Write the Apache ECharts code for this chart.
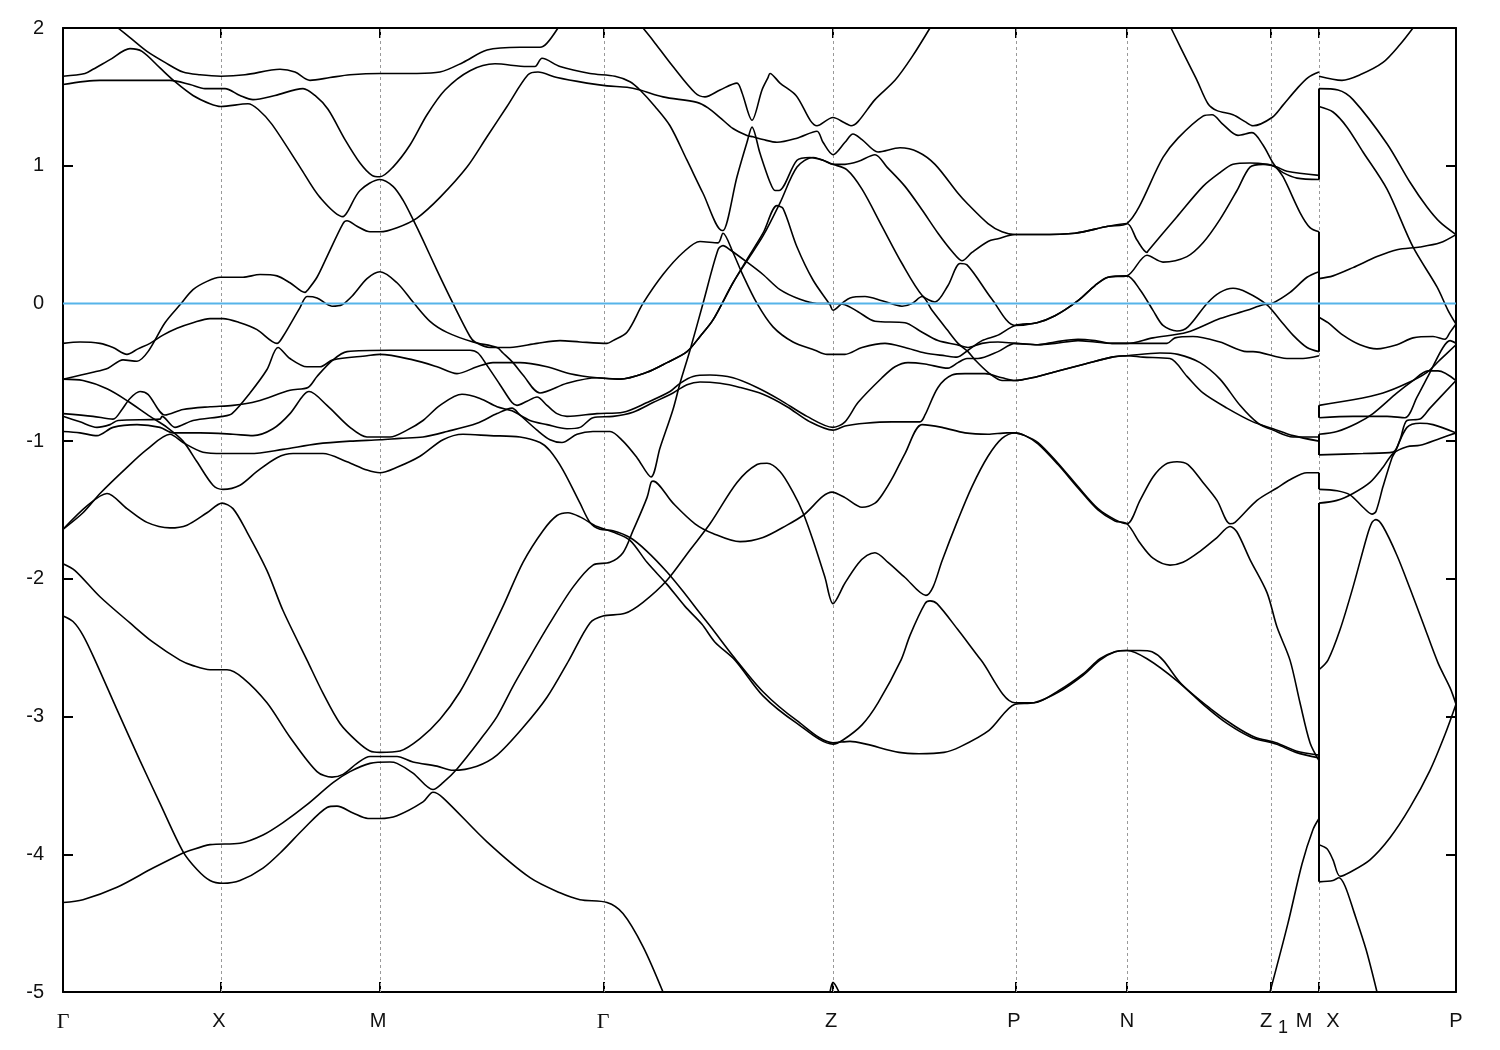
<!DOCTYPE html>
<html><head><meta charset="utf-8"><title>Band structure</title>
<style>html,body{margin:0;padding:0;background:#fff}#c{width:1500px;height:1050px}</style>
<script src="https://cdn.jsdelivr.net/npm/echarts@6/dist/echarts.min.js"></script>
</head><body><div id="c"></div>
<script>
// k = distance along the path, E = energy (eV)
const tickK=[158,317,541,770,953,1064,1208,1256];
const labelK=[0,156,315,540,768,951,1064,1211,1241,1270,1393];
const labelText=['Γ','X','M','Γ','Z','P','N','Z1','M','X','P'];
const energyTicks=[-5,-4,-3,-2,-1,1,2];
const fermi=[[0,0],[1393,0]];
const band01=[[55,2],[67,1.93],[84,1.83],[102,1.75],[120,1.68],[137,1.66],[158,1.65],[182,1.66],[217,1.70],[232,1.68],[247,1.62],[267,1.64],[287,1.66],[317,1.67],[354,1.67],[377,1.68],[400,1.75],[424,1.84],[457,1.86],[477,1.86],[484,1.89],[495,2]];
const band02=[[0,1.65],[22,1.67],[30,1.70],[47,1.77],[67,1.85],[79,1.83],[97,1.71],[112,1.61],[130,1.51],[147,1.45],[158,1.43],[185,1.45],[195,1.41],[209,1.30],[237,.99],[257,.77],[280,.63],[284,.66],[297,.82],[317,.90],[330,.85],[340,.75],[350,.61],[360,.46],[374,.24],[390,0],[407,-.24],[412,-.28],[427,-.32],[447,-.32],[474,-.29],[497,-.27],[517,-.28],[544,-.29],[550,-.27],[564,-.21],[580,0],[600,.21],[620,.37],[637,.45],[655,.44],[660,.51],[670,.37],[679,.22],[694,0],[710,-.17],[730,-.28],[752,-.34],[764,-.37],[770,-.37],[782,-.37],[799,-.32],[822,-.29],[842,-.32],[862,-.36],[882,-.38],[894,-.39],[905,-.34],[919,-.27],[935,-.23],[952,-.16],[974,-.14],[992,-.09],[1015,.02],[1032,.13],[1045,.19],[1064,.20],[1077,.10],[1090,-.05],[1100,-.16],[1114,-.20],[1125,-.17],[1144,0],[1157,.08],[1170,.11],[1184,.08],[1204,-.01],[1217,-.12],[1230,-.23],[1244,-.32],[1256,-.35]];
const band03=[[0,1.59],[37,1.62],[67,1.62],[107,1.62],[127,1.59],[142,1.56],[162,1.56],[177,1.51],[190,1.48],[212,1.51],[240,1.56],[252,1.51],[265,1.41],[282,1.19],[297,1.02],[309,.93],[317,.92],[330,.99],[347,1.15],[364,1.37],[382,1.55],[407,1.69],[432,1.74],[464,1.72],[472,1.72],[479,1.78],[497,1.72],[527,1.67],[552,1.65],[567,1.61],[577,1.55],[592,1.43],[607,1.29],[624,1.04],[640,.80],[659,.53],[660,.53],[674,.92],[684,1.17],[689,1.28],[697,1.09],[707,.88],[712,.82],[716,.82],[734,1.04],[747,1.06],[760,1.04],[770,1.01],[782,1.01],[795,1.03],[812,1.08],[824,.99],[842,.85],[859,.68],[875,.51],[890,.37],[899,.31],[909,.37],[925,.45],[935,.47],[952,.50],[975,.50],[1012,.51],[1045,.56],[1064,.58],[1100,1.06],[1115,1.20],[1140,1.36],[1149,1.37],[1160,1.30],[1175,1.22],[1189,1.24],[1200,1.15],[1210,1.02],[1220,.92],[1237,.66],[1247,.55],[1256,.52]];
const band04=[[0,-.55],[30,-.50],[45,-.47],[60,-.41],[74,-.42],[85,-.35],[102,-.14],[117,-.01],[130,.10],[144,.16],[157,.19],[180,.19],[197,.21],[214,.20],[227,.15],[242,.08],[245,.10],[254,.19],[264,.34],[280,.58],[284,.60],[294,.56],[307,.52],[317,.52],[334,.55],[354,.62],[377,.77],[404,.99],[424,1.21],[444,1.43],[465,1.66],[475,1.68],[494,1.64],[524,1.60],[544,1.58],[564,1.57],[577,1.55],[600,1.50],[634,1.46],[645,1.42],[657,1.35],[670,1.27],[684,1.22],[690,1.21],[700,1.19],[714,1.17],[734,1.20],[754,1.25],[760,1.17],[770,1.08],[782,1.17],[790,1.23],[799,1.19],[815,1.10],[837,1.13],[855,1.10],[872,1.01],[895,.80],[905,.72],[925,.58],[939,.52],[952,.50],[975,.50],[1012,.51],[1045,.56],[1064,.58],[1074,.46],[1084,.37],[1085,.38],[1114,.63],[1140,.85],[1157,.95],[1170,1.01],[1187,1.02],[1204,1.01],[1214,.99],[1224,.96],[1256,.93]];
const band05=[[0,-.29],[17,-.28],[37,-.29],[50,-.32],[64,-.37],[75,-.33],[87,-.29],[100,-.23],[114,-.18],[130,-.14],[147,-.11],[160,-.11],[177,-.14],[194,-.19],[214,-.29],[220,-.24],[237,-.03],[244,.05],[254,.04],[269,-.02],[279,-.01],[290,.06],[304,.18],[317,.23],[334,.15],[350,.01],[367,-.13],[384,-.21],[410,-.28],[434,-.32],[440,-.36],[450,-.43],[460,-.52],[477,-.65],[504,-.58],[534,-.54],[557,-.55],[584,-.50],[604,-.43],[624,-.35],[637,-.24],[650,-.12],[670,.15],[684,.32],[700,.51],[714,.71],[720,.69],[734,.41],[750,.17],[767,-.01],[770,-.05],[779,0],[787,.04],[802,.05],[819,.02],[839,-.02],[849,0],[859,.05],[869,-.05],[884,-.19],[895,-.29],[905,-.35],[912,-.41],[925,-.50],[939,-.56],[952,-.56],[969,-.54],[995,-.49],[1022,-.44],[1049,-.39],[1064,-.38],[1097,-.36],[1115,-.37],[1137,-.43],[1157,-.55],[1177,-.74],[1195,-.87],[1210,-.92],[1230,-.97],[1256,-.97]];
const band06=[[0,-.80],[30,-.82],[50,-.84],[59,-.77],[67,-.69],[77,-.64],[85,-.66],[102,-.81],[120,-.77],[147,-.75],[170,-.74],[194,-.71],[227,-.63],[245,-.61],[254,-.53],[270,-.41],[284,-.35],[327,-.34],[360,-.34],[407,-.34],[415,-.36],[424,-.45],[437,-.59],[449,-.72],[454,-.74],[464,-.71],[474,-.68],[484,-.74],[494,-.80],[504,-.82],[534,-.80],[560,-.79],[584,-.72],[607,-.64],[617,-.58],[630,-.53],[647,-.52],[670,-.54],[694,-.61],[717,-.70],[744,-.82],[770,-.90],[782,-.86],[795,-.72],[819,-.54],[832,-.46],[845,-.43],[862,-.44],[885,-.47],[895,-.43],[904,-.40],[915,-.40],[935,-.35],[952,-.29],[975,-.30],[992,-.28],[1015,-.26],[1032,-.27],[1049,-.29],[1064,-.29],[1104,-.29],[1112,-.25],[1130,-.24],[1157,-.28],[1184,-.35],[1190,-.35],[1224,-.40],[1240,-.40],[1256,-.38]];
const band07=[[0,-.82],[17,-.86],[34,-.90],[47,-.88],[55,-.85],[97,-.84],[99,-.82],[112,-.90],[130,-.85],[160,-.82],[169,-.80],[187,-.65],[204,-.48],[215,-.32],[227,-.40],[244,-.46],[257,-.46],[270,-.41],[304,-.38],[317,-.37],[350,-.41],[374,-.46],[394,-.51],[414,-.46],[430,-.43],[457,-.43],[484,-.46],[507,-.51],[534,-.54],[557,-.55],[584,-.50],[604,-.43],[624,-.35],[637,-.24],[650,-.12],[670,.15],[684,.31],[700,.49],[717,.73],[734,.99],[750,1.06],[770,1.01],[784,.97],[799,.83],[819,.56],[839,.29],[859,.06],[872,.01],[885,.13],[897,.29],[904,.28],[929,.03],[952,-.16],[974,-.14],[992,-.09],[1015,.02],[1032,.13],[1045,.19],[1064,.20],[1084,.35],[1100,.30],[1124,.34],[1140,.44],[1157,.61],[1174,.82],[1187,.99],[1200,1.01],[1210,1.00],[1220,.95],[1234,.91],[1256,.90]];
const band08=[[0,-.93],[17,-.94],[34,-.96],[50,-.90],[74,-.88],[97,-.90],[110,-.94],[137,-.94],[170,-.95],[190,-.96],[210,-.91],[227,-.80],[240,-.67],[246,-.64],[264,-.74],[287,-.90],[304,-.97],[327,-.97],[344,-.92],[360,-.85],[377,-.74],[399,-.66],[417,-.69],[434,-.75],[449,-.78],[467,-.85],[484,-.88],[504,-.91],[517,-.90],[530,-.83],[550,-.82],[570,-.79],[590,-.72],[610,-.65],[624,-.59],[637,-.57],[657,-.58],[677,-.61],[700,-.66],[724,-.75],[747,-.86],[770,-.92],[782,-.89],[802,-.87],[829,-.86],[857,-.86],[862,-.81],[875,-.61],[889,-.52],[902,-.51],[922,-.51],[939,-.54],[952,-.56],[969,-.54],[995,-.49],[1022,-.44],[1049,-.39],[1064,-.38],[1080,-.39],[1107,-.40],[1124,-.53],[1140,-.65],[1164,-.76],[1190,-.86],[1210,-.91],[1230,-.96],[1256,-1.0]];
const band09=[[0,-.55],[20,-.56],[44,-.62],[65,-.71],[87,-.82],[104,-.90],[120,-1.0],[134,-1.15],[150,-1.32],[160,-1.35],[177,-1.32],[194,-1.22],[214,-1.12],[230,-1.09],[260,-1.09],[284,-1.15],[304,-1.21],[317,-1.23],[334,-1.19],[357,-1.11],[380,-.99],[400,-.95],[427,-.96],[457,-.97],[477,-1.01],[487,-1.07],[500,-1.21],[517,-1.45],[527,-1.59],[537,-1.64],[550,-1.65],[567,-1.70],[584,-1.80],[604,-1.95],[620,-2.09],[637,-2.25],[650,-2.37],[670,-2.56],[700,-2.82],[734,-3.03],[770,-3.19],[787,-3.18],[803,-3.20],[836,-3.26],[856,-3.27],[881,-3.26],[897,-3.22],[926,-3.10],[952,-2.91],[971,-2.90],[996,-2.82],[1020,-2.70],[1037,-2.59],[1052,-2.53],[1064,-2.52],[1077,-2.52],[1089,-2.53],[1100,-2.59],[1118,-2.76],[1147,-2.94],[1172,-3.07],[1192,-3.15],[1213,-3.19],[1233,-3.25],[1256,-3.28]];
const band10=[[0,-1.64],[20,-1.52],[37,-1.38],[64,-1.19],[84,-1.06],[107,-.95],[120,-1.01],[140,-1.08],[160,-1.09],[187,-1.09],[220,-1.06],[254,-1.02],[287,-1.0],[317,-.99],[337,-.98],[360,-.97],[384,-.93],[414,-.87],[434,-.80],[449,-.76],[457,-.81],[474,-.92],[487,-.99],[499,-1.01],[514,-.95],[530,-.93],[547,-.93],[560,-1.0],[574,-1.12],[588,-1.26],[597,-1.05],[610,-.77],[617,-.58],[627,-.34],[640,0],[655,.39],[660,.42],[667,.39],[684,.30],[700,.21],[717,.10],[737,.03],[754,0],[770,0],[782,-.01],[795,-.06],[812,-.13],[842,-.14],[857,-.20],[875,-.27],[894,-.30],[905,-.32],[919,-.29],[935,-.28],[952,-.29],[975,-.30],[992,-.29],[1015,-.27],[1032,-.28],[1049,-.29],[1064,-.29],[1090,-.25],[1124,-.21],[1157,-.11],[1184,-.05],[1200,-.01],[1209,0],[1227,.08],[1244,.19],[1256,.23]];
const band11=[[0,-1.64],[24,-1.47],[44,-1.38],[64,-1.49],[84,-1.59],[107,-1.63],[124,-1.61],[144,-1.52],[159,-1.45],[170,-1.49],[184,-1.66],[204,-1.94],[220,-2.23],[244,-2.59],[260,-2.83],[277,-3.05],[294,-3.18],[307,-3.25],[317,-3.26],[337,-3.25],[357,-3.16],[377,-3.02],[397,-2.82],[414,-2.59],[440,-2.20],[460,-1.88],[480,-1.65],[494,-1.54],[505,-1.52],[517,-1.55],[534,-1.62],[550,-1.66],[567,-1.72],[584,-1.88],[604,-2.04],[622,-2.20],[639,-2.33],[652,-2.46],[672,-2.59],[700,-2.85],[734,-3.05],[770,-3.20],[780,-3.17],[799,-3.06],[815,-2.90],[838,-2.59],[847,-2.41],[862,-2.18],[867,-2.16],[874,-2.18],[895,-2.37],[918,-2.59],[952,-2.90],[971,-2.90],[996,-2.81],[1020,-2.69],[1037,-2.58],[1052,-2.53],[1064,-2.52],[1084,-2.58],[1114,-2.74],[1143,-2.93],[1164,-3.05],[1188,-3.15],[1213,-3.20],[1233,-3.26],[1256,-3.30]];
const band12=[[0,-1.89],[12,-1.94],[37,-2.13],[67,-2.32],[90,-2.46],[117,-2.59],[130,-2.63],[147,-2.66],[164,-2.66],[180,-2.72],[204,-2.90],[227,-3.15],[254,-3.40],[269,-3.44],[280,-3.42],[294,-3.34],[307,-3.29],[334,-3.29],[350,-3.33],[374,-3.36],[390,-3.39],[414,-3.36],[434,-3.28],[460,-3.08],[484,-2.86],[506,-2.59],[527,-2.32],[540,-2.27],[562,-2.25],[580,-2.17],[604,-2.01],[627,-1.79],[647,-1.60],[674,-1.30],[694,-1.17],[704,-1.16],[717,-1.22],[730,-1.37],[740,-1.52],[750,-1.72],[762,-1.99],[770,-2.18],[782,-2.03],[795,-1.89],[804,-1.83],[812,-1.81],[825,-1.88],[842,-1.99],[863,-2.12],[870,-2.06],[879,-1.87],[895,-1.57],[909,-1.33],[925,-1.11],[939,-.98],[952,-.94],[962,-.96],[975,-1.01],[995,-1.16],[1015,-1.33],[1035,-1.49],[1052,-1.57],[1064,-1.60],[1077,-1.43],[1090,-1.26],[1102,-1.17],[1114,-1.15],[1125,-1.17],[1140,-1.30],[1154,-1.43],[1167,-1.60],[1172,-1.59],[1194,-1.43],[1214,-1.34],[1227,-1.28],[1244,-1.23],[1256,-1.23]];
const band13=[[0,-2.27],[10,-2.31],[20,-2.41],[32,-2.59],[54,-2.95],[77,-3.32],[97,-3.63],[120,-3.98],[134,-4.11],[147,-4.19],[160,-4.21],[177,-4.19],[200,-4.10],[220,-3.97],[240,-3.82],[264,-3.66],[274,-3.65],[290,-3.70],[305,-3.74],[317,-3.74],[334,-3.72],[360,-3.62],[370,-3.55],[380,-3.59],[424,-3.91],[467,-4.17],[497,-4.28],[517,-4.33],[544,-4.35],[560,-4.43],[580,-4.67],[600,-5]];
const band14=[[0,-4.35],[20,-4.33],[54,-4.24],[90,-4.10],[120,-3.99],[124,-3.98],[147,-3.93],[177,-3.92],[200,-3.86],[220,-3.77],[244,-3.64],[270,-3.48],[287,-3.40],[307,-3.34],[327,-3.33],[334,-3.34],[350,-3.41],[370,-3.53],[380,-3.48],[394,-3.38],[417,-3.17],[434,-3.00],[450,-2.78],[465,-2.59],[487,-2.32],[510,-2.06],[530,-1.90],[547,-1.88],[560,-1.81],[570,-1.65],[584,-1.41],[588,-1.30],[590,-1.29],[610,-1.45],[632,-1.60],[650,-1.67],[677,-1.73],[700,-1.70],[724,-1.61],[740,-1.54],[769,-1.37],[782,-1.41],[799,-1.48],[812,-1.45],[820,-1.38],[830,-1.26],[842,-1.09],[859,-.88],[879,-.90],[902,-.94],[925,-.95],[944,-.94],[952,-.94],[962,-.96],[975,-1.02],[995,-1.17],[1015,-1.34],[1035,-1.50],[1052,-1.58],[1064,-1.60],[1077,-1.74],[1090,-1.85],[1107,-1.90],[1120,-1.88],[1137,-1.80],[1154,-1.70],[1167,-1.62],[1174,-1.66],[1187,-1.86],[1204,-2.10],[1214,-2.35],[1227,-2.59],[1237,-2.90],[1247,-3.19],[1256,-3.32]];
const band15=[[580,2],[590,1.91],[610,1.72],[632,1.53],[642,1.50],[657,1.55],[674,1.60],[679,1.53],[689,1.33],[699,1.55],[705,1.64],[707,1.67],[717,1.60],[733,1.51],[754,1.29],[770,1.35],[782,1.31],[788,1.29],[795,1.32],[812,1.48],[832,1.62],[849,1.79],[867,2]];
const band16=[[1108,2],[1125,1.75],[1134,1.62],[1145,1.45],[1154,1.40],[1170,1.37],[1182,1.32],[1190,1.29],[1209,1.35],[1220,1.44],[1234,1.56],[1245,1.64],[1256,1.68]];
const band17=[[1207,-5],[1225,-4.50],[1239,-4.07],[1250,-3.82],[1256,-3.74]];
const band18=[[767,-5],[770,-4.93],[776,-5]];
const band19=[[1256,1.65],[1279,1.62],[1297,1.66],[1320,1.75],[1337,1.88],[1350,2]];
const band20=[[1256,1.56],[1275,1.55],[1290,1.48],[1324,1.16],[1347,.88],[1364,.70],[1377,.59],[1393,.50]];
const band21=[[1256,1.43],[1270,1.39],[1284,1.28],[1300,1.10],[1324,.83],[1350,.41],[1374,.12],[1385,-.05],[1393,-.15]];
const band22=[[1256,.18],[1270,.20],[1290,.26],[1314,.34],[1334,.39],[1357,.41],[1377,.44],[1393,.50]];
const band23=[[1256,-.10],[1265,-.14],[1280,-.23],[1297,-.30],[1314,-.33],[1334,-.30],[1350,-.25],[1370,-.24],[1382,-.26],[1387,-.21],[1393,-.15]];
const band24=[[1256,-.74],[1290,-.70],[1320,-.65],[1344,-.58],[1364,-.50],[1377,-.41],[1393,-.30]];
const band25=[[1256,-.83],[1290,-.82],[1324,-.82],[1342,-.83],[1354,-.68],[1367,-.50],[1380,-.32],[1387,-.27],[1393,-.29]];
const band26=[[1256,-.95],[1274,-.93],[1294,-.87],[1310,-.80],[1334,-.65],[1350,-.56],[1365,-.49],[1375,-.49],[1393,-.56]];
const band27=[[1256,-1.10],[1300,-1.09],[1330,-1.08],[1337,-.99],[1344,-.85],[1357,-.84],[1367,-.76],[1393,-.56]];
const band28=[[1256,-1.45],[1274,-1.43],[1290,-1.38],[1307,-1.30],[1320,-1.19],[1330,-1.09],[1344,-1.04],[1357,-1.03],[1377,-.98],[1393,-.94]];
const band29=[[1256,-1.35],[1274,-1.36],[1287,-1.39],[1300,-1.48],[1309,-1.53],[1313,-1.51],[1320,-1.33],[1329,-1.12],[1332,-1.08],[1344,-.90],[1357,-.87],[1370,-.88],[1393,-.94]];
const band30=[[1256,-2.66],[1265,-2.59],[1277,-2.37],[1290,-2.06],[1304,-1.69],[1309,-1.59],[1313,-1.57],[1320,-1.62],[1334,-1.83],[1347,-2.07],[1360,-2.32],[1375,-2.61],[1387,-2.79],[1393,-2.91]];
const band31=[[1256,-4.20],[1270,-4.19],[1276,-4.17],[1282,-4.23],[1291,-4.42],[1303,-4.69],[1314,-5]];
const band32=[[1256,-3.93],[1264,-3.96],[1270,-4.04],[1277,-4.16],[1287,-4.13],[1307,-4.04],[1327,-3.88],[1347,-3.66],[1367,-3.39],[1382,-3.13],[1393,-2.91]];
const jump1=[[1256,1.56],[1256,.90]];
const jump2=[[1256,.52],[1256,-.35]];
const jump3=[[1256,-.74],[1256,-.83]];
const jump4=[[1256,-.95],[1256,-1.10]];
const jump5=[[1256,-1.23],[1256,-1.35]];
const jump6=[[1256,-1.45],[1256,-4.20]];
const bands=[band01,band02,band03,band04,band05,band06,band07,band08,band09,band10,band11,band12,band13,band14,band15,band16,band17,band18,band19,band20,band21,band22,band23,band24,band25,band26,band27,band28,band29,band30,band31,band32];
const jumps=[jump1,jump2,jump3,jump4,jump5,jump6];

const sans='"Liberation Sans"';
const chart=echarts.init(document.getElementById('c'),null,{renderer:'canvas'});
const bandSeries=bands.map(d=>({type:'line',data:d,showSymbol:false,smooth:0.3,silent:true,z:3,
  lineStyle:{color:'#000',width:1.6},xAxisIndex:0,yAxisIndex:0}));
const jumpSeries=jumps.map(d=>({type:'line',data:d,showSymbol:false,silent:true,z:4,
  lineStyle:{color:'#000',width:2},xAxisIndex:0,yAxisIndex:0}));
const tick={show:true,inside:true,length:10,lineStyle:{color:'#000',width:2}};
const frame={show:true,onZero:false,lineStyle:{color:'#000',width:2}};
chart.setOption({
  animation:false,backgroundColor:'#fff',
  grid:{left:63,right:44,top:28,bottom:58,show:false},
  xAxis:[{type:'value',min:0,max:1393,position:'bottom',
    axisLine:frame,splitLine:{show:false},
    axisTick:{...tick,customValues:tickK},
    axisLabel:{show:true,margin:19,color:'#111',fontFamily:sans,fontSize:20,hideOverlap:false,showMinLabel:true,showMaxLabel:true,
      customValues:labelK,
      formatter:v=>{const t=labelText[labelK.indexOf(v)];
        if(t==='Γ')return '{g|Γ}';
        if(t==='Z1')return '{z|Z}{s|1}';
        return t;},
      rich:{g:{fontFamily:'"Liberation Serif"',fontSize:22,color:'#111'},
            z:{fontFamily:sans,fontSize:20,color:'#111',padding:[0,0,6,0]},
            s:{fontFamily:sans,fontSize:18,color:'#111',padding:[8,0,0,6]}}}},
   {type:'value',min:0,max:1393,position:'top',
    axisLine:frame,splitLine:{show:false},axisLabel:{show:false},
    axisTick:{...tick,customValues:tickK}}],
  yAxis:[{type:'value',min:-5,max:2,interval:1,position:'left',
    axisLine:frame,splitLine:{show:false},
    axisTick:{...tick,customValues:energyTicks},
    axisLabel:{show:true,margin:19,color:'#111',fontFamily:sans,fontSize:20,formatter:v=>String(v)}},
   {type:'value',min:-5,max:2,interval:1,position:'right',
    axisLine:frame,splitLine:{show:false},axisLabel:{show:false},
    axisTick:{...tick,customValues:energyTicks}}],
  series:[
    {type:'line',data:[],silent:true,z:1,markLine:{silent:true,z:1,symbol:'none',animation:false,label:{show:false},
      lineStyle:{color:'#999',type:[3,3],width:1},data:tickK.map(k=>({xAxis:k}))}},
    ...bandSeries,...jumpSeries,
    {type:'line',data:fermi,showSymbol:false,silent:true,z:5,lineStyle:{color:'#56B4E9',width:2}}
  ]
});
</script></body></html>
